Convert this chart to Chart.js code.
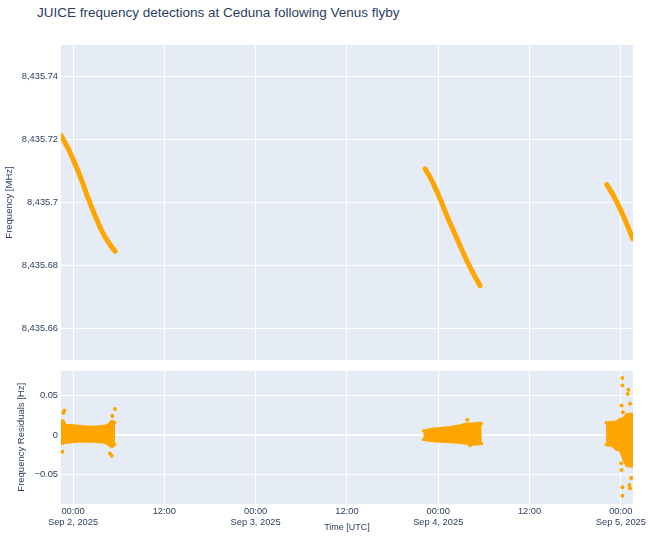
<!DOCTYPE html>
<html>
<head>
<meta charset="utf-8">
<script src="https://cdn.jsdelivr.net/npm/chart.js@4/dist/chart.umd.min.js"></script>
<style>
  html, body { margin: 0; padding: 0; background: #ffffff; }
  body { width: 651px; height: 539px; position: relative; overflow: hidden; font-family: "Liberation Sans", Arial, sans-serif; }
  #title { position: absolute; left: 37px; top: 5px; font-size: 13.5px; line-height: 16px; color: #2a3f5f; white-space: nowrap; }
  #c1 { position: absolute; left: 0; top: 0; }
  #c2 { position: absolute; left: 0; top: 362px; }
</style>
</head>
<body>
<div id="title">JUICE frequency detections at Ceduna following Venus flyby</div>
<canvas id="c1" width="651" height="362"></canvas>
<canvas id="c2" width="651" height="177"></canvas>
<script>
// ---- Data (hours relative to Sep 2, 2025 00:00 UTC) ----
const freq1Hours  = [-1.58, -0.62, 0.26, 1.14, 2.01, 2.89, 3.77, 4.64, 5.52];
const freq1Values = [8435.7213, 8435.7170, 8435.7123, 8435.7070, 8435.7012, 8435.6959, 8435.6911, 8435.6874, 8435.6845];
const freq2Hours  = [46.27, 47.15, 48.24, 49.12, 49.99, 50.87, 51.75, 52.62, 53.50];
const freq2Values = [8435.7107, 8435.7070, 8435.7012, 8435.6959, 8435.6911, 8435.6863, 8435.6816, 8435.6774, 8435.6736];
const freq3Hours  = [70.15, 71.02, 71.90, 72.78, 73.57];
const freq3Values = [8435.7057, 8435.7022, 8435.6980, 8435.6932, 8435.6885];

// residual envelopes (upper / lower edge of the dense detection band)
const res1Hours = [-1.58, -1.30, -1.05, -0.17, 0.70, 1.58, 2.46, 3.33, 4.21, 4.64, 5.08, 5.52];
const res1High  = [0.018, 0.018, 0.0125, 0.0120, 0.0112, 0.0104, 0.0098, 0.0104, 0.0115, 0.0125, 0.0175, 0.0160];
const res1Low   = [-0.0110, -0.0105, -0.0095, -0.0088, -0.0082, -0.0078, -0.0082, -0.0086, -0.0092, -0.0120, -0.0150, -0.0120];
const res2Hours = [46.05, 46.92, 48.24, 49.55, 50.87, 51.75, 52.62, 53.50, 53.72];
const res2High  = [0.0051, 0.0068, 0.0081, 0.0094, 0.0118, 0.0140, 0.0140, 0.0148, 0.0145];
const res2Low   = [-0.0058, -0.0070, -0.0082, -0.0088, -0.0096, -0.0105, -0.0120, -0.0112, -0.0110];
const res3Hours = [70.06, 70.80, 71.46, 71.90, 72.34, 72.78, 73.22, 73.66];
const res3High  = [0.0155, 0.0160, 0.0165, 0.0200, 0.0205, 0.0260, 0.0265, 0.0265];
const res3Low   = [-0.0125, -0.0130, -0.0185, -0.0190, -0.0300, -0.0390, -0.0395, -0.0395];

// isolated residual detections
const outlierHours  = [-1.14, -1.27, -1.41, 5.52, 5.17, 4.86, 5.08, 51.83, 52.18, 72.20, 72.20, 72.99, 72.90, 72.10, 73.20, 72.26, 72.03, 72.10, 73.35, 73.13, 72.20, 73.20, 72.20];
const outlierValues = [0.031, 0.028, -0.0215, 0.033, 0.024, -0.0236, -0.0266, 0.0195, -0.013, 0.0727, 0.063, 0.0575, 0.052, 0.0376, 0.0397, 0.029, -0.0362, -0.0447, -0.055, -0.0637, -0.0666, -0.0679, -0.0776];

// axes
const timeTicks   = [0, 12, 24, 36, 48, 60, 72];
const timeLabels  = [["00:00", "Sep 2, 2025"], "12:00", ["00:00", "Sep 3, 2025"], "12:00", ["00:00", "Sep 4, 2025"], "12:00", ["00:00", "Sep 5, 2025"]];
const freqTicks   = [8435.66, 8435.68, 8435.70, 8435.72, 8435.74];
const freqLabels  = ["8,435.66", "8,435.68", "8,435.7", "8,435.72", "8,435.74"];
const resTicks    = [-0.05, 0, 0.05];
const resLabels   = ["\u22120.05", "0", "0.05"];

// ---- Styling ----
const ORANGE = '#ffa500';
const BG = '#e5ecf6';
const TXT = '#2a3f5f';
const FONT = '"Liberation Sans", Arial, sans-serif';
const X_MIN = -1.58, X_MAX = 73.6;

const bgPlugin = {
  id: 'plotBg',
  beforeDraw(chart) {
    const { ctx, chartArea: a } = chart;
    ctx.save();
    ctx.fillStyle = BG;
    ctx.fillRect(a.left, a.top, a.right - a.left, a.bottom - a.top);
    ctx.restore();
  }
};

const zip = (xs, ys) => xs.map((x, i) => ({ x, y: ys[i] }));

function lineSet(xs, ys) {
  return {
    data: zip(xs, ys), showLine: true, borderColor: ORANGE, borderWidth: 5,
    borderCapStyle: 'round', borderJoinStyle: 'round', cubicInterpolationMode: 'monotone',
    pointRadius: 0, fill: false
  };
}
function bandSet(xs, ys, fill) {
  return {
    data: zip(xs, ys), showLine: true, borderColor: ORANGE, borderWidth: 3,
    borderJoinStyle: 'round', borderCapStyle: 'round', backgroundColor: ORANGE,
    pointRadius: 0, fill: fill
  };
}
const noPad = s => { s.paddingTop = 0; s.paddingBottom = 0; s.paddingLeft = 0; s.paddingRight = 0; };

Chart.defaults.font.family = FONT;
Chart.defaults.color = TXT;

new Chart(document.getElementById('c1'), {
  type: 'scatter',
  data: { datasets: [
    lineSet(freq1Hours, freq1Values),
    lineSet(freq2Hours, freq2Values),
    lineSet(freq3Hours, freq3Values)
  ]},
  options: {
    responsive: false, animation: false, devicePixelRatio: 1,
    layout: { padding: { top: 45, right: 18, bottom: 2, left: 0 } },
    plugins: { legend: { display: false }, tooltip: { enabled: false } },
    scales: {
      x: {
        type: 'linear', min: X_MIN, max: X_MAX,
        afterBuildTicks: s => { s.ticks = timeTicks.map(v => ({ value: v })); },
        ticks: { display: false },
        grid: { color: '#ffffff', lineWidth: 1, drawTicks: false },
        border: { display: false },
        afterFit: s => { s.height = 0; noPad(s); }
      },
      y: {
        min: 8435.65, max: 8435.75,
        afterBuildTicks: s => { s.ticks = freqTicks.map(v => ({ value: v })); },
        ticks: {
          padding: 3, font: { size: 9.3 }, color: TXT,
          callback: v => freqLabels[freqTicks.findIndex(t => Math.abs(t - v) < 1e-6)]
        },
        grid: { color: '#ffffff', lineWidth: 1, drawTicks: false },
        border: { display: false },
        title: { display: true, text: 'Frequency [MHz]', font: { size: 9.5 }, color: TXT, padding: { top: 4, bottom: 0 } },
        afterFit: s => { s.width = 61; noPad(s); }
      }
    }
  },
  plugins: [bgPlugin]
});

new Chart(document.getElementById('c2'), {
  type: 'scatter',
  data: { datasets: [
    bandSet(res1Hours, res1High, false),
    bandSet(res1Hours, res1Low, '-1'),
    bandSet(res2Hours, res2High, false),
    bandSet(res2Hours, res2Low, '-1'),
    bandSet(res3Hours, res3High, false),
    bandSet(res3Hours, res3Low, '-1'),
    { data: zip(outlierHours, outlierValues), pointRadius: 2, pointBorderWidth: 0, backgroundColor: ORANGE, borderColor: ORANGE }
  ]},
  options: {
    responsive: false, animation: false, devicePixelRatio: 1,
    layout: { padding: { top: 7.5, right: 18, bottom: 0, left: 0 } },
    plugins: { legend: { display: false }, tooltip: { enabled: false } },
    scales: {
      x: {
        type: 'linear', min: X_MIN, max: X_MAX,
        afterBuildTicks: s => { s.ticks = timeTicks.map(v => ({ value: v })); },
        ticks: {
          autoSkip: false, maxRotation: 0, padding: 1.5,
          font: { size: 9.3, lineHeight: 1.2 }, color: TXT,
          callback: v => timeLabels[timeTicks.indexOf(v)]
        },
        grid: { color: '#ffffff', lineWidth: 1, drawTicks: false },
        border: { display: false },
        title: { display: true, text: 'Time [UTC]', font: { size: 9 }, color: TXT, padding: { top: 0, bottom: 6 } },
        afterFit: s => { s.height = 35; }
      },
      y: {
        min: -0.088, max: 0.082,
        afterBuildTicks: s => { s.ticks = resTicks.map(v => ({ value: v })); },
        ticks: {
          padding: 3, font: { size: 9.3 }, color: TXT,
          callback: v => resLabels[resTicks.findIndex(t => Math.abs(t - v) < 1e-9)]
        },
        grid: { color: '#ffffff', lineWidth: c => (c.tick && c.tick.value === 0 ? 2 : 1), drawTicks: false },
        border: { display: false },
        title: { display: true, text: 'Frequency Residuals [Hz]', font: { size: 9.5 }, color: TXT, padding: { top: 16, bottom: 0 } },
        afterFit: s => { s.width = 61; }
      }
    }
  },
  plugins: [bgPlugin]
});
</script>
</body>
</html>
